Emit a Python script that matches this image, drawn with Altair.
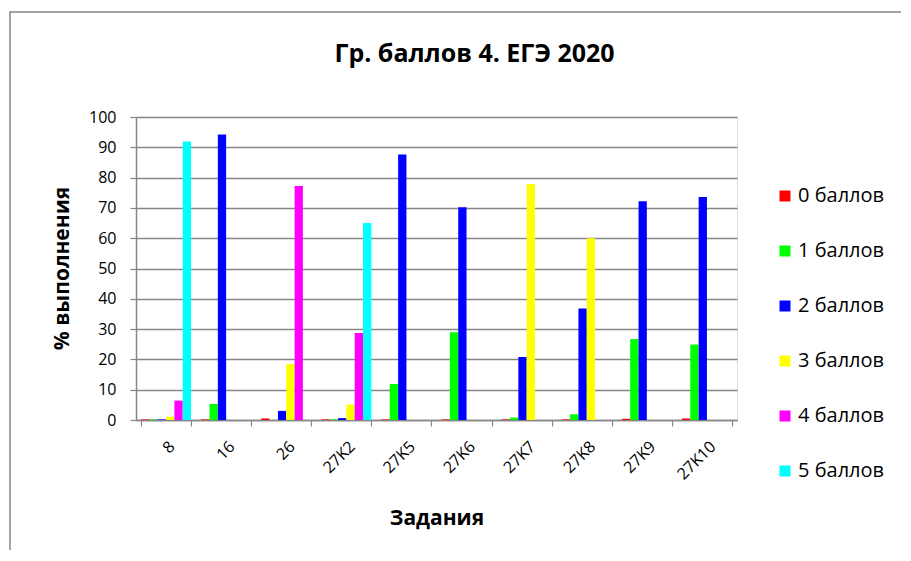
import altair as alt
import pandas as pd

categories = ["8", "16", "26", "27K2", "27K5", "27K6", "27K7", "27K8", "27K9", "27K10"]
series_names = ["0 баллов", "1 баллов", "2 баллов", "3 баллов", "4 баллов", "5 баллов"]
s0 = [0.2, 0.2, 0.5, 0.2, 0.2, 0.2, 0.2, 0.2, 0.4, 0.5]
s1 = [0.2, 5.3, 0.0, 0.2, 11.9, 29.0, 0.8, 1.9, 26.7, 24.9]
s2 = [0.2, 94.2, 3.0, 0.6, 87.6, 70.2, 20.8, 36.8, 72.2, 73.6]
s3 = [1.1, 0.0, 18.5, 5.1, 0.0, 0.0, 77.9, 60.0, 0.0, 0.0]
s4 = [6.4, 0.0, 77.2, 28.7, 0.0, 0.0, 0.0, 0.0, 0.0, 0.0]
s5 = [91.9, 0.0, 0.0, 65.0, 0.0, 0.0, 0.0, 0.0, 0.0, 0.0]
colors = ["#FF0000", "#00FF00", "#0000FF", "#FFFF00", "#FF00FF", "#00FFFF"]

rows = []
for name, vals in zip(series_names, [s0, s1, s2, s3, s4, s5]):
    for c, v in zip(categories, vals):
        rows.append({"cat": c, "series": name, "value": v})
df = pd.DataFrame(rows)

FONT = "Open Sans"

bars = alt.Chart(df).mark_bar(size=8.3).encode(
    x=alt.X("cat:N", sort=categories,
            scale=alt.Scale(paddingInner=0.168, paddingOuter=0.084),
            axis=alt.Axis(title="Задания", labelAngle=-45, labelFontSize=16,
                          labelFont=FONT, labelColor="#000000", labelPadding=12,
                          tickBand="extent", tickSize=6, tickColor="#868686",
                          domainColor="#868686", domainWidth=1.5, tickWidth=1.2,
                          titleFont=FONT, titleFontSize=21, titleFontWeight="bold",
                          titleX=300.5, titleY=98, titleBaseline="middle",
                          titleAlign="center")),
    xOffset=alt.XOffset("series:N", sort=series_names,
                        scale=alt.Scale(paddingInner=0, paddingOuter=0)),
    y=alt.Y("value:Q", scale=alt.Scale(domain=[0, 100], nice=False),
            axis=alt.Axis(title="% выполнения", values=list(range(0, 101, 10)),
                          labelFont=FONT, labelFontSize=16, labelColor="#000000",
                          labelPadding=14, tickSize=6, tickColor="#868686",
                          domainColor="#868686", domainWidth=1.5, tickWidth=1.2,
                          gridColor="#868686", gridWidth=1.5,
                          titleFont=FONT, titleFontSize=21, titleFontWeight="bold",
                          titleX=-74, titleY=151, titleAngle=270,
                          titleAlign="center", titleBaseline="middle")),
    color=alt.Color("series:N", sort=series_names,
                    scale=alt.Scale(domain=series_names, range=colors),
                    legend=alt.Legend(title=None, orient="none", legendX=639, legendY=69,
                                      symbolType="square", symbolSize=121,
                                      symbolStrokeWidth=0, labelFont=FONT,
                                      labelFontSize=20, labelColor="#000000",
                                      rowPadding=35, labelOffset=3)),
)

frame = alt.Chart(pd.DataFrame({"a": [0]})).mark_rect(
    fill=None, stroke="#868686", strokeWidth=1.5
).encode(x=alt.value(-126), x2=alt.value(900), y=alt.value(-105), y2=alt.value(600))

chart = alt.layer(frame, bars).properties(
    width=601, height=303,
    padding={"left": 128, "top": 109, "right": 164, "bottom": 130},
    autosize=alt.AutoSizeParams(type="none"),
    title=alt.TitleParams("Гр. баллов 4. ЕГЭ 2020", font=FONT, fontSize=25,
                          fontWeight="bold", color="#000000", anchor="middle",
                          baseline="middle", dx=38, dy=68, offset=0),
).configure_view(stroke=None).configure(background="white")

chart.save("out.html", embed_options={"renderer": "svg", "actions": False})
